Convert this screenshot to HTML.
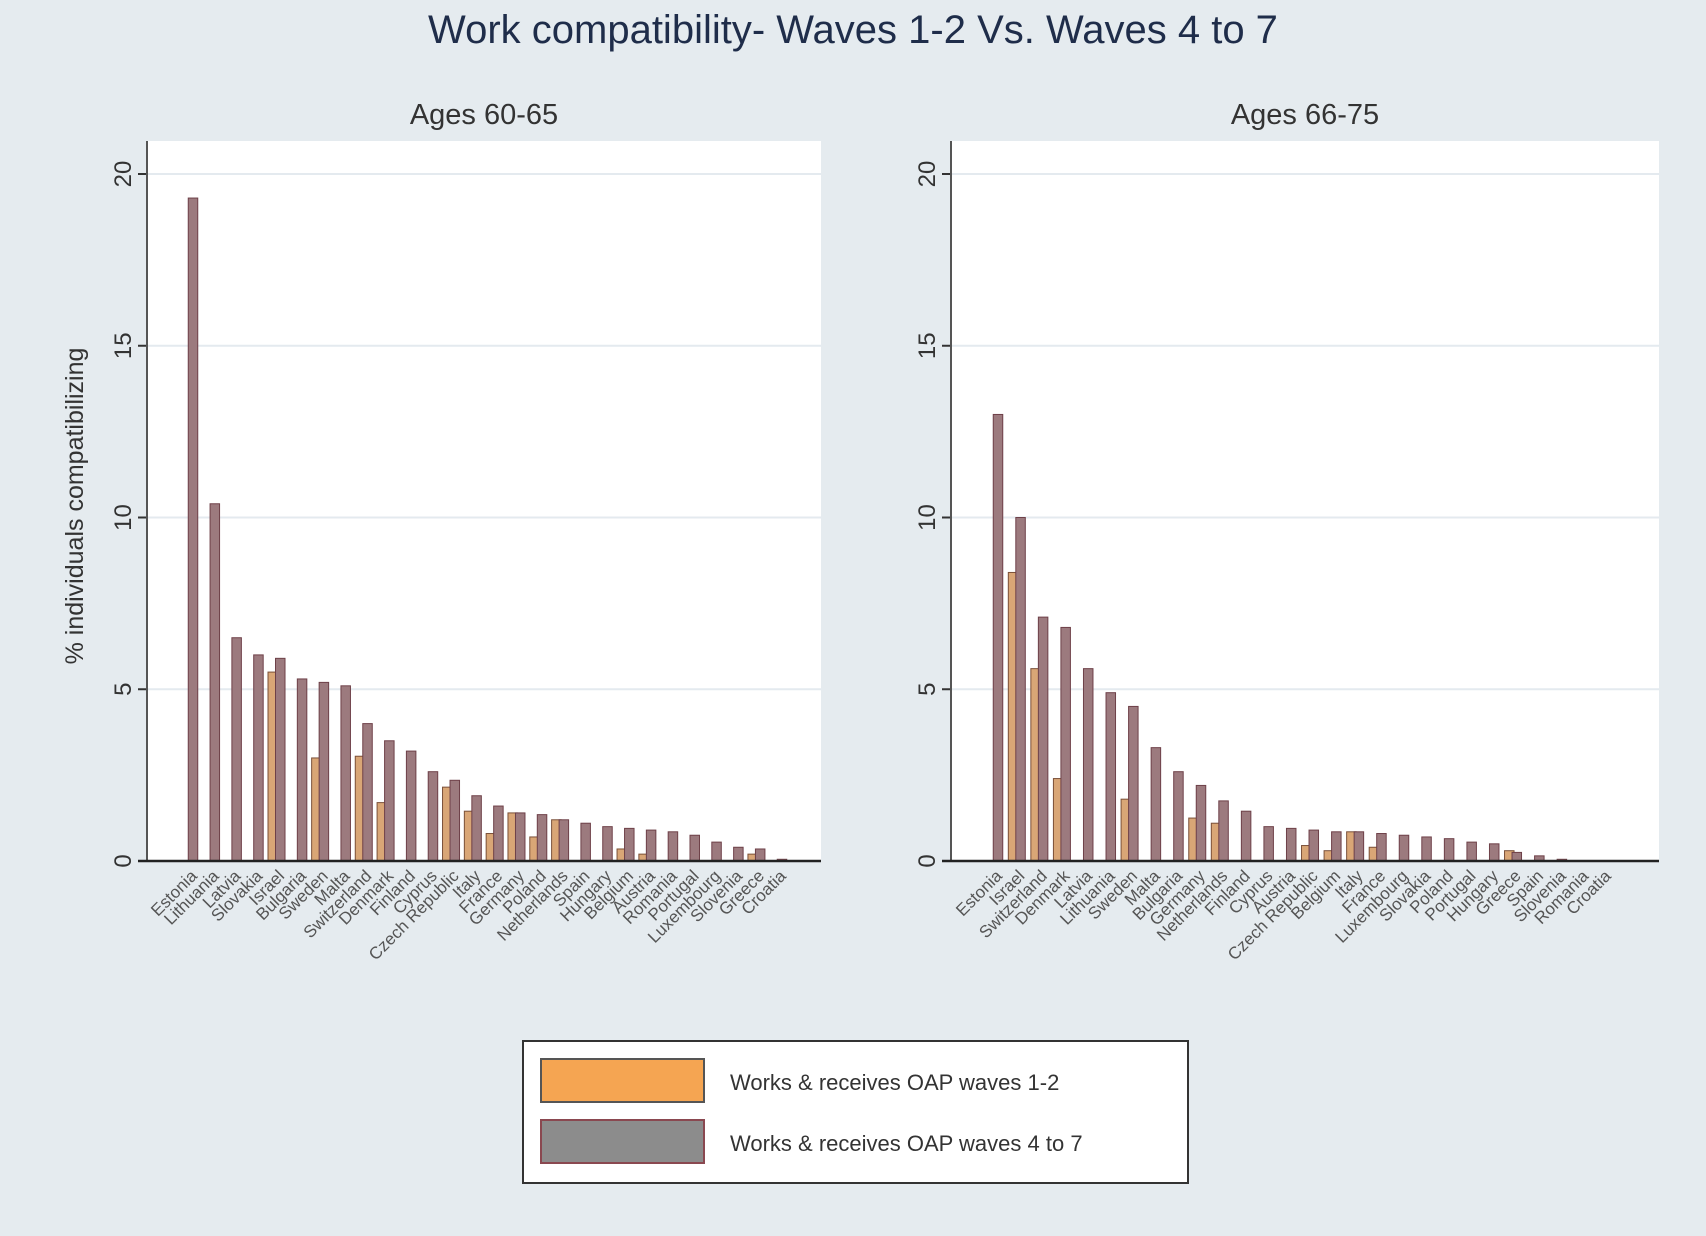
<!DOCTYPE html>
<html><head><meta charset="utf-8"><style>
body{margin:0;background:#e5ebef;}
svg{display:block;font-family:"Liberation Sans",sans-serif;}
</style></head><body>
<svg id="c" width="1706" height="1236" viewBox="0 0 1706 1236">
<rect x="0" y="0" width="1706" height="1236" fill="#e5ebef"/>
<text x="853" y="43" text-anchor="middle" font-size="40" fill="#1f2d4a">Work compatibility- Waves 1-2 Vs. Waves 4 to 7</text>
<g id="panels"></g>
<g>
<rect x="523" y="1041" width="665" height="142" fill="#fff" stroke="#333" stroke-width="2"/>
<rect x="541" y="1059" width="163" height="43" fill="#f5a552" stroke="#555" stroke-width="2"/>
<text x="730" y="1090" font-size="22" fill="#333">Works &amp; receives OAP waves 1-2</text>
<rect x="541" y="1120" width="163" height="43" fill="#8c8c8c" stroke="#8a4850" stroke-width="2"/>
<text x="730" y="1151" font-size="22" fill="#333">Works &amp; receives OAP waves 4 to 7</text>
</g>
</svg>
<script>
const ticks=[0,5,10,15,20];
const leftCountries=["Estonia","Lithuania","Latvia","Slovakia","Israel","Bulgaria","Sweden","Malta","Switzerland","Denmark","Finland","Cyprus","Czech Republic","Italy","France","Germany","Poland","Netherlands","Spain","Hungary","Belgium","Austria","Romania","Portugal","Luxembourg","Slovenia","Greece","Croatia"];
const leftW47=[19.3,10.4,6.5,6.0,5.9,5.3,5.2,5.1,4.0,3.5,3.2,2.6,2.35,1.9,1.6,1.4,1.35,1.2,1.1,1.0,0.95,0.9,0.85,0.75,0.55,0.4,0.35,0.05];
const leftW12=[0,0,0,0,5.5,0,3.0,0,3.05,1.7,0,0,2.15,1.45,0.8,1.4,0.7,1.2,0,0,0.35,0.2,0,0,0,0,0.2,0];
const rightCountries=["Estonia","Israel","Switzerland","Denmark","Latvia","Lithuania","Sweden","Malta","Bulgaria","Germany","Netherlands","Finland","Cyprus","Austria","Czech Republic","Belgium","Italy","France","Luxembourg","Slovakia","Poland","Portugal","Hungary","Greece","Spain","Slovenia","Romania","Croatia"];
const rightW47=[13.0,10.0,7.1,6.8,5.6,4.9,4.5,3.3,2.6,2.2,1.75,1.45,1.0,0.95,0.9,0.85,0.85,0.8,0.75,0.7,0.65,0.55,0.5,0.25,0.15,0.05,0,0];
const rightW12=[0,8.4,5.6,2.4,0,0,1.8,0,0,1.25,1.1,0,0,0,0.45,0.3,0.85,0.4,0,0,0,0,0,0.3,0,0,0,0];
const NS='http://www.w3.org/2000/svg';
const root=document.getElementById('panels');
function mk(tag,attrs,parent){const e=document.createElementNS(NS,tag);for(const k in attrs)e.setAttribute(k,attrs[k]);parent.appendChild(e);return e;}
function panel(id,title,x0,x1,firstX,lastX,cats,w47,w12,showYTitle){
  const top=141,y0=861,yTop=174;
  const g=mk('g',{},root);
  
  
  const ys=v=>y0-(v/20)*(y0-yTop);
  const n=cats.length;
  const xs=i=>firstX+i*(lastX-firstX)/(n-1);
  const pa=mk('rect',{x:x0,y:top,width:x1-x0,height:y0-top,fill:'#fff'},g);
  
  
  const t=mk('text',{x:(x0+x1)/2,y:124,'text-anchor':'middle','font-size':29,fill:'#333'},g);t.textContent=title;
  
  
  ticks.forEach(v=>{
    if(v>0){const gl=mk('line',{x1:x0,x2:x1,y1:ys(v),y2:ys(v),stroke:'#e4eaef','stroke-width':2},g);
      
      }
    mk('line',{x1:x0-9,x2:x0,y1:ys(v),y2:ys(v),stroke:'#333','stroke-width':2},g);
    const tl=mk('text',{x:0,y:0,'font-size':24,fill:'#333','text-anchor':'middle',transform:`translate(${x0-16},${ys(v)}) rotate(-90)`},g);
    tl.textContent=v;
    
    
  });
  const ax=mk('line',{x1:x0,x2:x0,y1:top,y2:y0,stroke:'#555','stroke-width':2},g);
  
  
  cats.forEach((c,i)=>{
    const cx=xs(i),bw=9.5;
    if(w12[i]>0){const b=mk('rect',{x:cx-bw/2-7.5,y:ys(w12[i]),width:bw,height:y0-ys(w12[i]),fill:'#d9a676',stroke:'#7a5038','stroke-width':1},g);
      
      }
    if(w47[i]>0){const b=mk('rect',{x:cx-bw/2,y:ys(w47[i]),width:bw,height:y0-ys(w47[i]),fill:'#9c7a7e',stroke:'#6e4048','stroke-width':1},g);
      
      }
    const l=mk('text',{x:0,y:0,'font-size':17,fill:'#555','text-anchor':'end',transform:`translate(${cx+5},${y0+16}) rotate(-45)`},g);
    l.textContent=c;
    
    
  });
  const xa=mk('line',{x1:x0-9,x2:x1,y1:y0,y2:y0,stroke:'#222','stroke-width':2.5},g);
  
  
  if(showYTitle){const yt=mk('text',{x:0,y:0,'font-size':25,fill:'#333','text-anchor':'middle',transform:`translate(83,506) rotate(-90)`},g);
    yt.textContent='% individuals compatibilizing';
    
    }
}
panel('ages-60-65','Ages 60-65',147,821,193,782,leftCountries,leftW47,leftW12,true);
panel('ages-66-75','Ages 66-75',951,1659,998,1607,rightCountries,rightW47,rightW12,false);
</script>
</body></html>
